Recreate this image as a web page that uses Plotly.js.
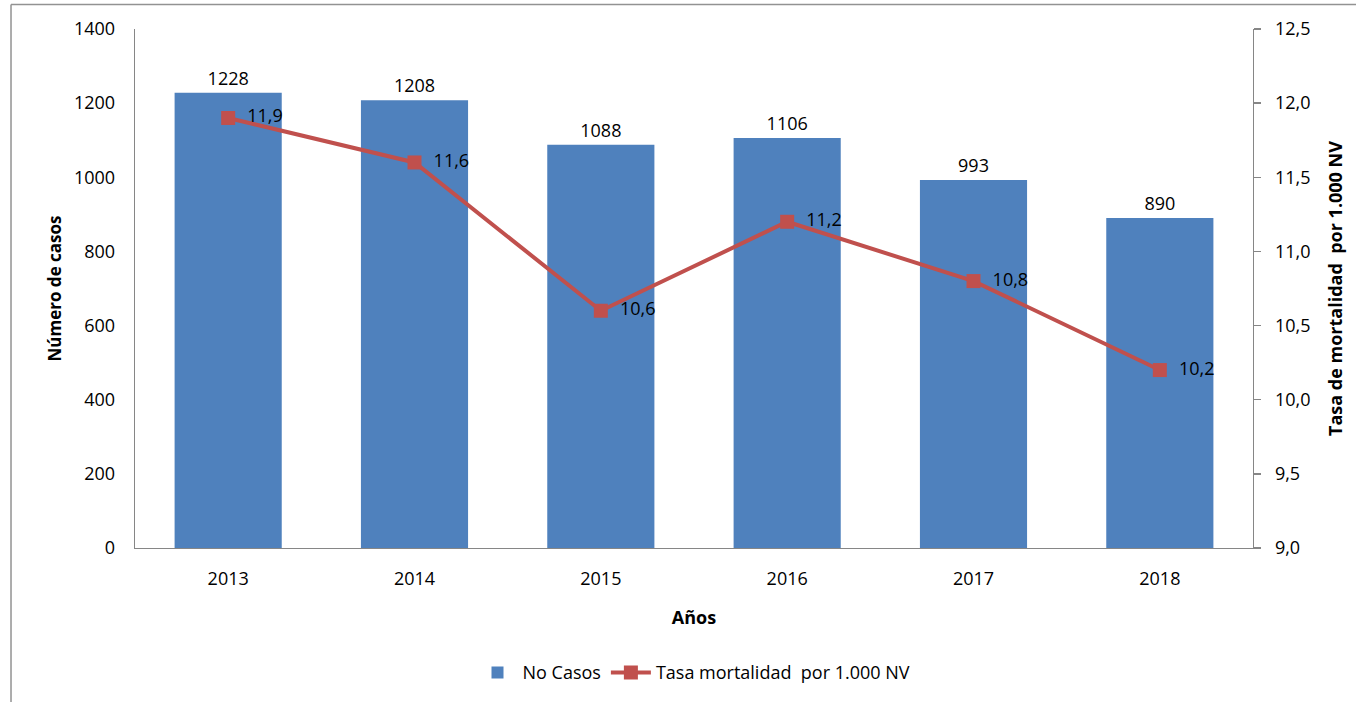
<!DOCTYPE html>
<html>
<head>
<meta charset="utf-8">
<script src="https://cdn.plot.ly/plotly-3.0.1.min.js"></script>
<style>
  html, body { margin: 0; padding: 0; background: #fff; }
  #chart { width: 1356px; height: 702px; }
</style>
</head>
<body>
<div id="chart"></div>
<script>
const years = ['2013', '2014', '2015', '2016', '2017', '2018'];
const casos = [1228, 1208, 1088, 1106, 993, 890];
const tasa = [11.9, 11.6, 10.6, 11.2, 10.8, 10.2];
const leftTicks = [0, 200, 400, 600, 800, 1000, 1200, 1400];
const rightTicks = [9.0, 9.5, 10.0, 10.5, 11.0, 11.5, 12.0, 12.5];

const FONT = 'Open Sans, Lato, sans-serif';
const FS = 18;
const fmt1 = v => v.toFixed(1).replace('.', ',');

const barTrace = {
  type: 'bar',
  name: 'No Casos',
  x: years,
  y: casos,
  marker: { color: '#4F81BD' },
  text: casos.map(String),
  textposition: 'outside',
  textfont: { family: FONT, size: FS, color: '#000' },
  cliponaxis: false,
  hoverinfo: 'x+y'
};

const lineTrace = {
  type: 'scatter',
  mode: 'lines+markers+text',
  name: 'Tasa mortalidad  por 1.000 NV',
  x: years,
  y: tasa,
  yaxis: 'y2',
  line: { color: '#C0504D', width: 4 },
  marker: { symbol: 'square', size: 14, color: '#C0504D' },
  text: tasa.map(v => '  ' + fmt1(v)),
  textposition: 'middle right',
  textfont: { family: FONT, size: FS, color: '#000' },
  cliponaxis: false
};

const border = '#929292';
const layout = {
  width: 1356,
  height: 702,
  margin: { l: 135, r: 103, t: 29, b: 153 },
  paper_bgcolor: '#fff',
  plot_bgcolor: '#fff',
  separators: ',.',
  font: { family: FONT, size: FS, color: '#000' },
  bargap: 0.425,
  showlegend: true,
  legend: {
    orientation: 'h',
    x: 0.5, xanchor: 'center',
    y: -0.238, yanchor: 'middle',
    font: { family: FONT, size: FS, color: '#000' },
    traceorder: 'normal',
    itemwidth: 40
  },
  xaxis: {
    type: 'category',
    showline: true, linecolor: '#868686', linewidth: 1.3,
    ticks: '', showgrid: false,
    tickfont: { family: FONT, size: FS },
    ticklabelstandoff: 14,
    title: { text: 'Años', font: { family: FONT, size: FS, weight: 'bold' }, standoff: 22 }
  },
  yaxis: {
    range: [0, 1400],
    tickvals: leftTicks,
    ticktext: leftTicks.map(String),
    showline: true, linecolor: '#868686', linewidth: 1.3,
    ticks: '', showgrid: false, zeroline: false,
    tickfont: { family: FONT, size: FS },
    ticklabelstandoff: 15,
    title: { text: 'Número de casos', font: { family: FONT, size: 17, weight: 'bold' }, standoff: 8 }
  },
  yaxis2: {
    overlaying: 'y',
    side: 'right',
    range: [9, 12.5],
    tickvals: rightTicks,
    ticktext: rightTicks.map(fmt1),
    showline: true, linecolor: '#868686', linewidth: 1.3,
    ticks: 'outside', ticklen: 7, tickcolor: '#868686', tickwidth: 1.3,
    showgrid: false, zeroline: false,
    tickfont: { family: FONT, size: FS },
    ticklabelstandoff: 10,
    title: { text: 'Tasa de mortalidad  por 1.000 NV', font: { family: FONT, size: FS, weight: 'bold' }, standoff: 20 }
  },
  shapes: [
    { type: 'line', xref: 'paper', yref: 'paper', x0: -0.1109, x1: -0.1109, y0: 1.0471, y1: -0.4,
      line: { color: border, width: 1.5 } },
    { type: 'line', xref: 'paper', yref: 'paper', x0: -0.1109, x1: 1.3, y0: 1.0471, y1: 1.0471,
      line: { color: border, width: 1.5 } }
  ]
};

Plotly.newPlot('chart', [barTrace, lineTrace], layout, { displayModeBar: false, staticPlot: true });
</script>
</body>
</html>
